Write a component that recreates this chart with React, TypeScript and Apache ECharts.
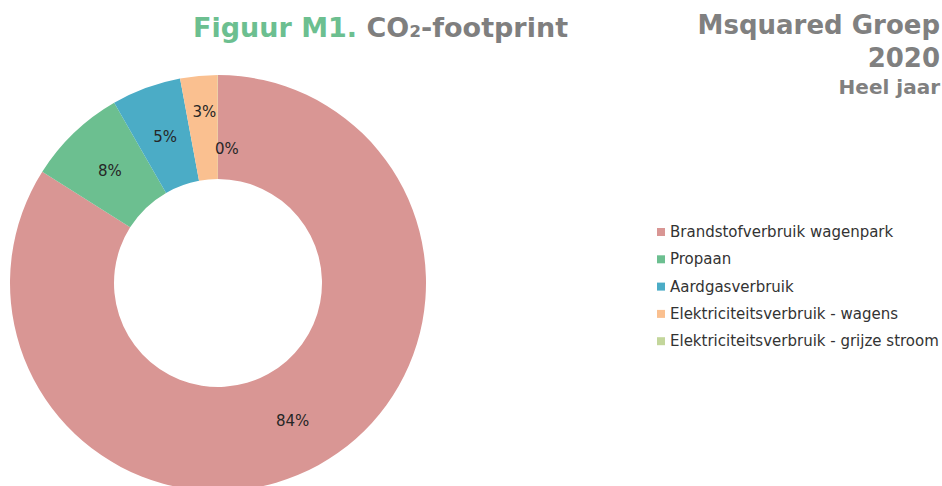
import React, { useEffect, useRef } from "react";
import * as echarts from "echarts";

const categories = [
  "Brandstofverbruik wagenpark",
  "Propaan",
  "Aardgasverbruik",
  "Elektriciteitsverbruik - wagens",
  "Elektriciteitsverbruik - grijze stroom",
];
const values = [84.0, 7.7, 5.4, 2.9, 0.02];
const colors = ["#D99694", "#6CBF90", "#4BACC6", "#FAC090", "#C3D69B"];
const titleLeft = ["Figuur M1.", "CO₂-footprint"];
const titleRight = ["Msquared Groep", "2020", "Heel jaar"];

const FONT = "DejaVu Sans, Verdana, sans-serif";

export default function App() {
  const ref = useRef<HTMLDivElement>(null);
  useEffect(() => {
    if (!ref.current) return;
    const chart = echarts.init(ref.current, null, { renderer: "svg" });
    const rightStyle = (fs: number) => ({
      fill: "#808080",
      fontSize: fs,
      fontWeight: "bold",
      fontFamily: FONT,
      align: "right",
      verticalAlign: "middle",
    });
    chart.setOption({
      animation: false,
      backgroundColor: "#ffffff",
      textStyle: { fontFamily: FONT },
      graphic: [
        {
          type: "text",
          x: 193,
          y: 27.5,
          style: {
            text: `{g|${titleLeft[0]}} {k|${titleLeft[1]}}`,
            verticalAlign: "middle",
            fontSize: 27,
            fontWeight: "bold",
            fontFamily: FONT,
            rich: {
              g: { fill: "#6CBF90", fontSize: 27, fontWeight: "bold", fontFamily: FONT },
              k: { fill: "#7F7F7F", fontSize: 27, fontWeight: "bold", fontFamily: FONT },
            },
          },
        },
        { type: "text", x: 940, y: 25, style: { text: titleRight[0], ...rightStyle(26) } },
        { type: "text", x: 940, y: 58, style: { text: titleRight[1], ...rightStyle(26) } },
        { type: "text", x: 940, y: 87, style: { text: titleRight[2], ...rightStyle(20) } },
      ],
      legend: {
        orient: "vertical",
        left: 652,
        top: 219.5,
        icon: "rect",
        itemWidth: 8,
        itemHeight: 8,
        itemGap: 12.3,
        data: categories,
        textStyle: { fontSize: 15, color: "#333333", fontFamily: FONT },
      },
      series: [
        {
          type: "pie",
          center: [218, 283],
          radius: [104, 208],
          startAngle: 90,
          clockwise: true,
          color: colors,
          label: {
            show: true,
            position: "inside",
            fontSize: 15,
            color: "#262626",
            fontFamily: FONT,
            formatter: (p: any) => Math.round(p.percent) + "%",
          },
          labelLine: { show: false },
          labelLayout: (p: any) => {
            if (p.dataIndex === 4) return { dx: 9, dy: 25 };
            if (p.dataIndex === 3) return { dx: 1, dy: -13 };
            if (p.dataIndex === 1 || p.dataIndex === 2) return { dx: 2, dy: 3 };
            return { dx: -2, dy: -1 };
          },
          emphasis: { disabled: true },
          data: categories.map((c, i) => ({ name: c, value: values[i] })),
        },
      ],
    });
    return () => chart.dispose();
  }, []);
  return (
    <div
      ref={ref}
      style={{ position: "fixed", left: 0, top: 0, width: 942, height: 486, background: "#fff" }}
    />
  );
}
